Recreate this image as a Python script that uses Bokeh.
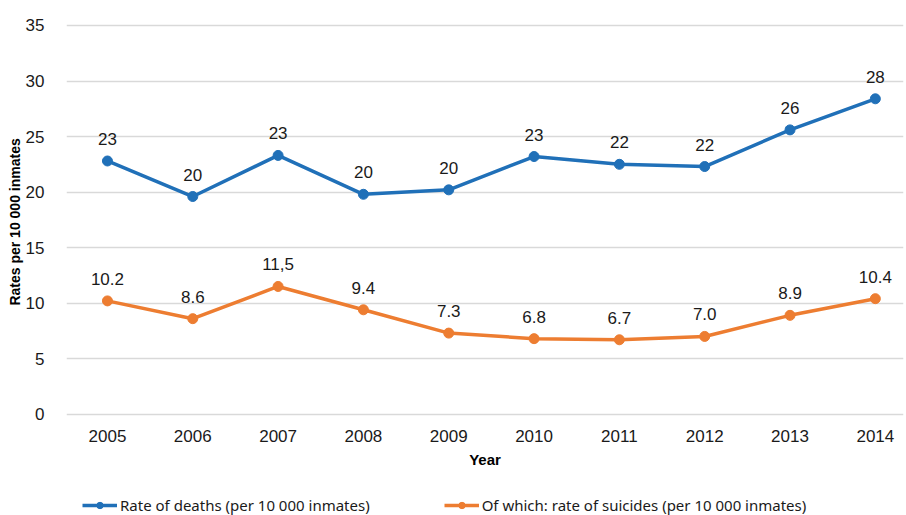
from bokeh.plotting import figure
from bokeh.models import ColumnDataSource, Range1d, FixedTicker, Legend, LegendItem, LabelSet
from bokeh.layouts import column
from bokeh.core.properties import value
from bokeh.embed import file_html
from bokeh.resources import INLINE

years = [2005, 2006, 2007, 2008, 2009, 2010, 2011, 2012, 2013, 2014]
deaths = [22.8, 19.6, 23.3, 19.8, 20.2, 23.2, 22.5, 22.3, 25.6, 28.4]
deaths_labels = ["23", "20", "23", "20", "20", "23", "22", "22", "26", "28"]
suicides = [10.2, 8.6, 11.5, 9.4, 7.3, 6.8, 6.7, 7.0, 8.9, 10.4]
suicides_labels = ["10.2", "8.6", "11,5", "9.4", "7.3", "6.8", "6.7", "7.0", "8.9", "10.4"]
y_ticks = [0, 5, 10, 15, 20, 25, 30, 35]
series_names = ["Rate of deaths (per 10 000 inmates)",
                "Of which: rate of suicides (per 10 000 inmates)"]

BLUE = "#2070b8"
ORANGE = "#ed7d31"
FONT = "Liberation Sans"

p = figure(width=906, height=485, output_backend="svg", toolbar_location=None,
           x_range=Range1d(2004.52, 2014.33), y_range=Range1d(-0.3, 35.27),
           min_border_left=66, min_border_right=3, min_border_top=22, min_border_bottom=68)
p.outline_line_color = None
p.background_fill_color = "white"
p.border_fill_color = "white"

src_d = ColumnDataSource(dict(x=years, y=deaths, lab=deaths_labels))
src_s = ColumnDataSource(dict(x=years, y=suicides, lab=suicides_labels))

p.line("x", "y", source=src_d, line_color=BLUE, line_width=3.5)
p.scatter("x", "y", source=src_d, size=10, fill_color=BLUE, line_color=BLUE)
p.line("x", "y", source=src_s, line_color=ORANGE, line_width=3.5)
p.scatter("x", "y", source=src_s, size=10, fill_color=ORANGE, line_color=ORANGE)

for src in (src_d, src_s):
    p.add_layout(LabelSet(x="x", y="y", text="lab", source=src, y_offset=16,
                          text_align="center", text_baseline="bottom",
                          text_font=value(FONT), text_font_size=value("17px"),
                          text_color="#1a1a1a"))

p.xaxis.ticker = FixedTicker(ticks=years)
p.yaxis.ticker = FixedTicker(ticks=y_ticks)
for ax in (p.xaxis[0], p.yaxis[0]):
    ax.axis_line_color = None
    ax.major_tick_line_color = None
    ax.minor_tick_line_color = None
    ax.major_label_text_font = FONT
    ax.major_label_text_font_size = "17px"
    ax.major_label_text_color = "#1a1a1a"
    ax.axis_label_text_font = FONT
    ax.axis_label_text_font_style = "bold"
    ax.axis_label_text_color = "#000000"
p.xaxis.axis_label = "Year"
p.yaxis.axis_label = "Rates  per 10 000 inmates"
p.xaxis.axis_label_text_font_size = "15px"
p.yaxis.axis_label_text_font_size = "14px"
p.xaxis.major_label_standoff = 6
p.yaxis.major_label_standoff = 16
p.xaxis.axis_label_standoff = 6
p.yaxis.axis_label_standoff = 0

p.xgrid.grid_line_color = None
p.ygrid.ticker = FixedTicker(ticks=y_ticks)
p.ygrid.grid_line_color = "#d9d9d9"
p.ygrid.grid_line_width = 1.5

# legend strip below the chart (series drawn off-range; only their legend swatches show)
lg = figure(width=906, height=30, output_backend="svg", toolbar_location=None,
            x_range=Range1d(0, 1), y_range=Range1d(0, 1),
            min_border_left=0, min_border_right=0, min_border_top=0, min_border_bottom=0)
lg.axis.visible = False
lg.grid.visible = False
lg.outline_line_color = None
dl1 = lg.line("x", "y", source=src_d, line_color=BLUE, line_width=3.5)
dc1 = lg.scatter("x", "y", source=src_d, size=10, fill_color=BLUE, line_color=BLUE)
dl2 = lg.line("x", "y", source=src_s, line_color=ORANGE, line_width=3.5)
dc2 = lg.scatter("x", "y", source=src_s, size=10, fill_color=ORANGE, line_color=ORANGE)
legend = Legend(items=[
    LegendItem(label=series_names[0], renderers=[dl1, dc1]),
    LegendItem(label=series_names[1], renderers=[dl2, dc2]),
], orientation="horizontal", location=(16, 0), border_line_color=None,
   background_fill_alpha=0, glyph_width=35, glyph_height=16, label_standoff=3, spacing=74,
   label_text_font="Noto Sans", label_text_font_size="15px", label_text_color="#1a1a1a",
   label_height=16, padding=0, margin=0)
lg.add_layout(legend, "center")

layout = column(p, lg, spacing=0)
open("out.html", "w").write(file_html(layout, INLINE))
